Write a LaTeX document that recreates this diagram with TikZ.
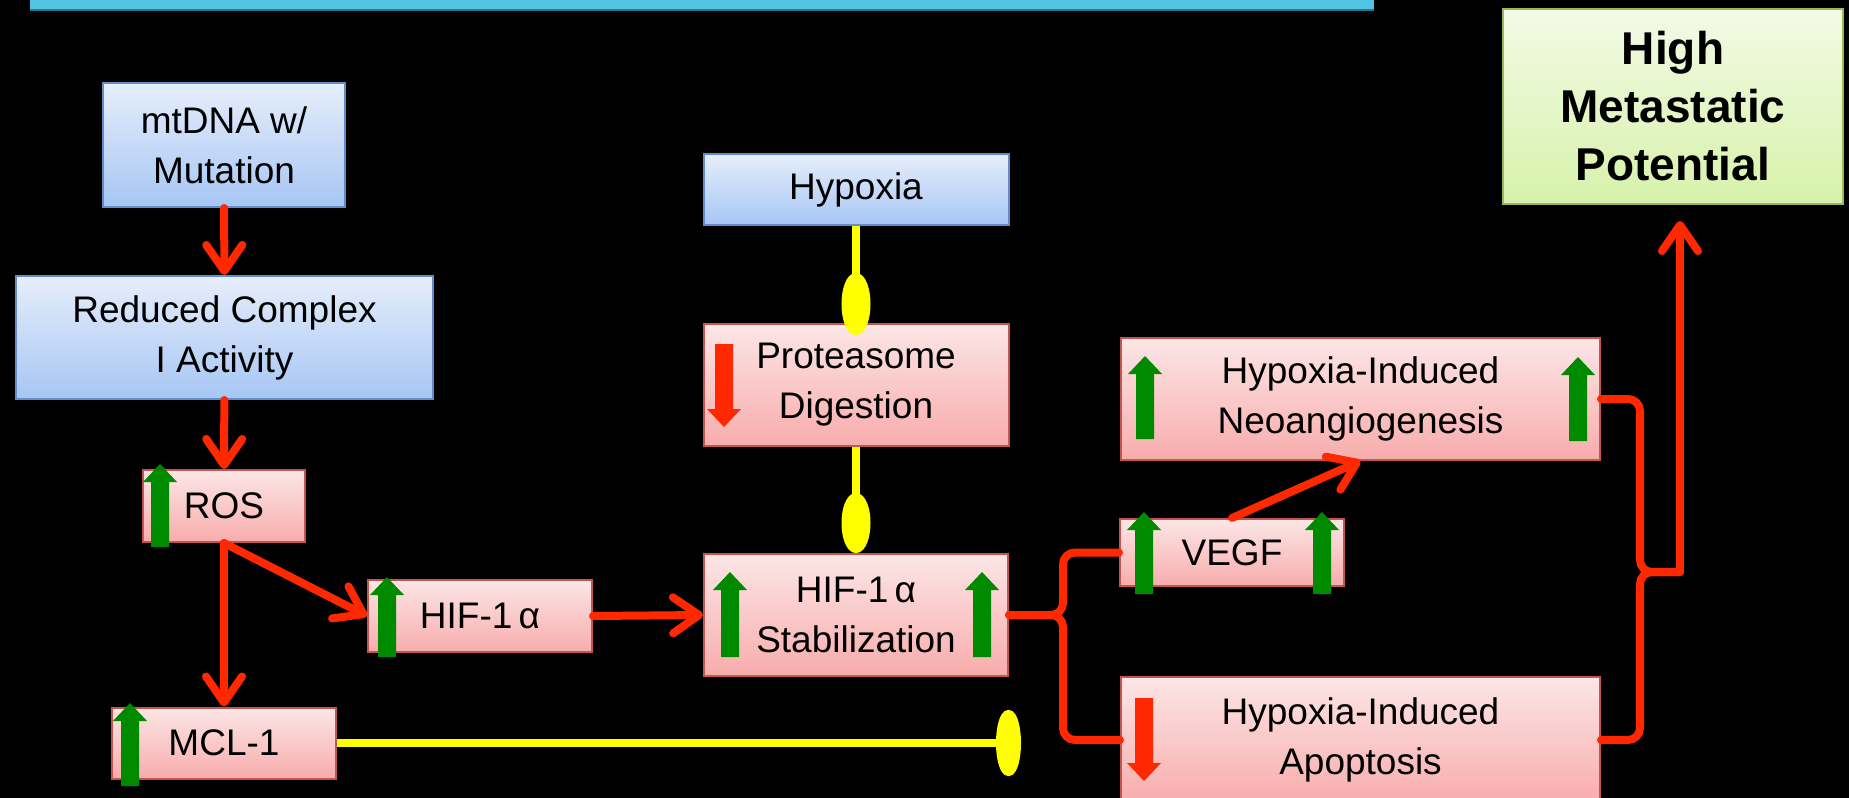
\documentclass[tikz,border=0pt]{standalone}
\usepackage{fontspec}
\setmainfont{Liberation Sans}
\usetikzlibrary{arrows.meta}

\definecolor{boxblue}{RGB}{230,238,251}
\definecolor{boxbluedark}{RGB}{166,198,244}
\definecolor{edgeblue}{RGB}{100,140,200}
\definecolor{boxpink}{RGB}{252,230,230}
\definecolor{boxpinkdark}{RGB}{248,172,172}
\definecolor{edgepink}{RGB}{195,85,80}
\definecolor{boxgreen}{RGB}{243,250,230}
\definecolor{boxgreendark}{RGB}{214,242,170}
\definecolor{edgegreen}{RGB}{152,185,84}
\definecolor{linkred}{RGB}{255,40,0}
\definecolor{markgreen}{RGB}{0,138,0}
\definecolor{blockyellow}{RGB}{255,255,0}
\definecolor{bannercyan}{RGB}{80,196,226}
\definecolor{bannerdark}{RGB}{40,120,145}

% green "up" and red "down" block marks: x, top, bottom
\newcommand{\upmark}[3]{\fill[markgreen] (#1-9,#3) -- (#1-9,#2+18) -- (#1-17,#2+18) -- (#1,#2) -- (#1+17,#2+18) -- (#1+9,#2+18) -- (#1+9,#3) -- cycle;}
\newcommand{\downmark}[3]{\fill[linkred] (#1-9,#2) -- (#1-9,#3-18) -- (#1-17,#3-18) -- (#1,#3) -- (#1+17,#3-18) -- (#1+9,#3-18) -- (#1+9,#2) -- cycle;}

\tikzset{
    box/.style={draw, line width=1pt, inner sep=0pt, align=center, font=\fontsize{18.5}{25}\selectfont},
    bluebox/.style={box, draw=edgeblue, top color=boxblue, bottom color=boxbluedark},
    pinkbox/.style={box, draw=edgepink, top color=boxpink, bottom color=boxpinkdark},
    greenbox/.style={box, draw=edgegreen, top color=boxgreen, bottom color=boxgreendark, font=\bfseries\fontsize{23}{29}\selectfont},
    redline/.style={linkred, line width=4pt, line cap=round},
    redlink/.style={redline, -{Straight Barb[length=13pt,width=18pt,round]}},
    yellowlink/.style={blockyellow, line width=4pt}
}

\begin{document}
\begin{tikzpicture}[x=0.5pt, y=-0.5pt]
    \useasboundingbox (0,0) rectangle (1849,798);
    \fill[black] (0,0) rectangle (1849,798);

    % Banner
    \fill[bannercyan] (30,-10) rectangle (1374,10);
    \draw[bannerdark, line width=1pt] (30,10) -- (1374,10);

    % Left column
    \node[bluebox, minimum width=121pt, minimum height=62pt] (mt) at (224,145) {mtDNA w/\\Mutation};
    \node[bluebox, minimum width=208.5pt, minimum height=61.5pt] (red) at (224.5,337.5) {Reduced Complex\\I Activity};
    \node[pinkbox, minimum width=81pt, minimum height=36pt] (ros) at (224,506) {ROS};
    \node[pinkbox, minimum width=112pt, minimum height=35.5pt] (mcl) at (224,743) {MCL-1};
    \node[pinkbox, minimum width=112pt, minimum height=36pt] (hif) at (480,616) {HIF-1\,α};

    % Middle column
    \node[bluebox, minimum width=152.5pt, minimum height=35.5pt] (hyp) at (856,189.5) {Hypoxia};
    \node[pinkbox, minimum width=152.5pt, minimum height=61pt] (prot) at (856,385) {Proteasome\\Digestion};
    \node[pinkbox, minimum width=152pt, minimum height=61pt] (stab) at (856,615) {HIF-1\,α\\Stabilization};

    % Right column
    \node[pinkbox, minimum width=112pt, minimum height=33.5pt] (vegf) at (1232,552.5) {VEGF};
    \node[pinkbox, minimum width=239.5pt, minimum height=61pt] (neo) at (1360.5,399) {Hypoxia-Induced\\Neoangiogenesis};
    \node[pinkbox, minimum width=239.5pt, minimum height=63pt] (apop) at (1360.5,740) {Hypoxia-Induced\\Apoptosis};
    \node[greenbox, minimum width=170pt, minimum height=97.5pt] (high) at (1673,106.5) {High\\Metastatic\\Potential};

    % Up / down marks
    \upmark{160}{464}{547}
    \upmark{387}{577}{657}
    \upmark{130}{703}{786}
    \upmark{730}{572}{657}
    \upmark{982}{572}{657}
    \upmark{1144}{512}{594}
    \upmark{1322}{512}{594}
    \upmark{1145}{356}{439}
    \upmark{1578}{357}{441}
    \downmark{724}{344}{427}
    \downmark{1144}{698}{781}

    % Red links
    \draw[redlink] (mt) -- (red);
    \draw[redlink] (red) -- (ros);
    \draw[redlink] (ros.south) -- (hif.west);
    \draw[redlink] (ros.south) -- (mcl.north);
    \draw[redlink] (hif.east) -- (stab.west);
    \draw[redlink] (vegf.north) -- (neo.south);

    % Left brace
    \coordinate (lb) at (1063,615);
    \draw[redline, rounded corners=6pt] (stab.east) -- (lb) |- (vegf.west);
    \draw[redline, rounded corners=6pt] (stab.east) -- (lb) |- (apop.west);

    % Right brace
    \coordinate (rb) at (1640,572);
    \coordinate (rbtip) at (1680,572);
    \draw[redline, rounded corners=6pt] (neo.east) -| (rb) -- (rbtip);
    \draw[redline, rounded corners=6pt] (apop.east) -| (rb) -- (rbtip);
    \draw[redlink, shorten >=8pt] (rbtip) -- (rbtip |- high.south);

    % Yellow blocks
    \draw[yellowlink, -{Ellipse[length=31pt,width=14.5pt]}, shorten >=-6pt] (hyp.south) -- (prot.north);
    \draw[yellowlink, -{Ellipse[length=30pt,width=14.5pt]}] (prot.south) -- (stab.north);
    \coordinate (mclend) at (1021,743);
    \draw[yellowlink, -{Ellipse[length=12.5pt,width=33pt]}] (mcl.east) -- (mclend);
\end{tikzpicture}
\end{document}
